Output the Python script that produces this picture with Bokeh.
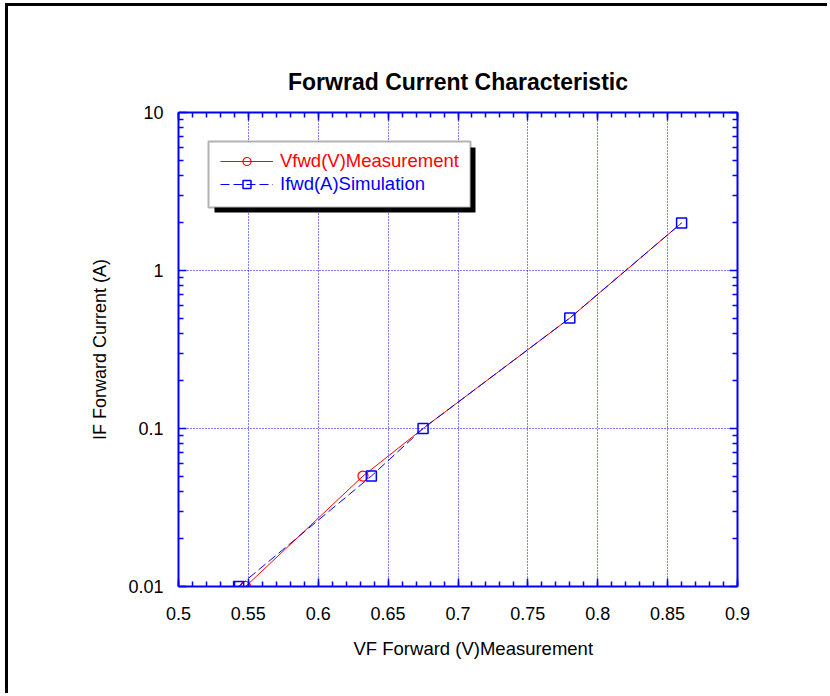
from bokeh.plotting import figure
from bokeh.models import (LinearAxis, LogAxis, FixedTicker, NumeralTickFormatter,
                          CustomJSTickFormatter, Legend, LegendItem, BoxAnnotation, Range1d, Title)
from bokeh.embed import file_html
from bokeh.resources import INLINE

# ---- data ----
meas_vf = [0.548, 0.632, 0.675, 0.78, 0.86]
meas_if = [0.01, 0.05, 0.1, 0.5, 2.0]
meas_mark_vf = [0.548, 0.632]
meas_mark_if = [0.01, 0.05]
sim_vf = [0.543, 0.638, 0.675, 0.78, 0.86]
sim_if = [0.01, 0.05, 0.1, 0.5, 2.0]

x_ticks = [0.5, 0.55, 0.6, 0.65, 0.7, 0.75, 0.8, 0.85, 0.9]
y_ticks = [0.01, 0.1, 1, 10]

title_text = "Forwrad Current Characteristic"
x_label = "VF Forward (V)Measurement"
y_label = "IF Forward Current (A)"
meas_label = "Vfwd(V)Measurement"
sim_label = "Ifwd(A)Simulation"

FONT = "Liberation Sans"
BLUE = "#0000ff"

x_minor = [round(0.5 + 0.01 * i, 2) for i in range(41)]
y_minor = [m * 10 ** e for e in (-2, -1, 0) for m in range(2, 10)]

p = figure(width=822, height=690, x_range=Range1d(0.5, 0.9), y_range=Range1d(0.01, 10),
           y_axis_type="log", output_backend="svg", toolbar_location=None, title=None,
           min_border_left=170, min_border_right=93, min_border_top=106, min_border_bottom=110)
p.styles = {"border-left": "3px solid black", "border-top": "3px solid black",
            "margin-left": "5px", "margin-top": "3px"}
p.outline_line_color = None
p.background_fill_color = "white"
p.border_fill_color = "white"

xt = FixedTicker(ticks=x_ticks, minor_ticks=x_minor)
yt = FixedTicker(ticks=y_ticks, minor_ticks=y_minor)


def style(ax, ticker, labels=True, fmt=None, standoff=13):
    ax.ticker = ticker
    ax.axis_line_color = BLUE
    ax.axis_line_width = 2
    ax.major_tick_in = 8
    ax.major_tick_out = 0
    ax.minor_tick_in = 5
    ax.minor_tick_out = 0
    ax.major_tick_line_color = BLUE
    ax.minor_tick_line_color = BLUE
    ax.major_tick_line_width = 1.5
    ax.minor_tick_line_width = 1.5
    ax.major_label_text_font = FONT
    ax.major_label_text_font_size = "18px"
    ax.major_label_text_color = "black"
    ax.major_label_standoff = standoff
    if labels:
        ax.formatter = fmt
    else:
        ax.formatter = CustomJSTickFormatter(code="return ''")
        ax.major_label_standoff = 0


style(p.xaxis[0], xt, True, NumeralTickFormatter(format="0.[00]"), 20)
style(p.yaxis[0], yt, True, NumeralTickFormatter(format="0.[00]"), 15)
p.yaxis[0].axis_label = y_label
p.yaxis[0].axis_label_text_font = FONT
p.yaxis[0].axis_label_text_font_size = "18px"
p.yaxis[0].axis_label_text_font_style = "normal"
p.yaxis[0].axis_label_text_color = "black"
p.yaxis[0].axis_label_standoff = 15

top_ax = LinearAxis()
style(top_ax, xt, False)
right_ax = LogAxis()
style(right_ax, yt, False)
p.add_layout(top_ax, "above")
p.add_layout(right_ax, "right")

p.xgrid.ticker = xt
p.ygrid.ticker = yt
for g in (p.xgrid[0], p.ygrid[0]):
    g.grid_line_color = BLUE
    g.grid_line_dash = "1 2"
    g.grid_line_width = 1
    g.minor_grid_line_color = None

# ---- data glyphs ----
r_meas = p.line(meas_vf, meas_if, line_color="red", line_width=1)
r_meas_m = p.scatter(meas_mark_vf, meas_mark_if, marker="circle", size=10,
                     line_color="red", fill_color=None, line_width=1.2)
r_sim = p.line(sim_vf, sim_if, line_color=BLUE, line_width=1, line_dash="9 4")
r_sim_m = p.scatter(sim_vf, sim_if, marker="square", size=10,
                    line_color=BLUE, fill_color=None, line_width=1.5)

# ---- legend box with shadow ----
p.add_layout(BoxAnnotation(left=36, right=297, top=439, bottom=374,
                           left_units="screen", right_units="screen",
                           top_units="screen", bottom_units="screen",
                           fill_color="black", fill_alpha=1, line_color=None))
p.add_layout(BoxAnnotation(left=30, right=292, top=445, bottom=379,
                           left_units="screen", right_units="screen",
                           top_units="screen", bottom_units="screen",
                           fill_color="white", fill_alpha=1, line_color="black", line_width=2))

for items, col, loc in (([LegendItem(label=meas_label, renderers=[r_meas, r_meas_m])], "red", (42, 414)),
                        ([LegendItem(label=sim_label, renderers=[r_sim, r_sim_m])], BLUE, (42, 391))):
    leg = Legend(items=items, location=loc, label_text_color=col, label_text_font=FONT,
                 label_text_font_size="18.5px", glyph_width=53, glyph_height=20, label_height=20,
                 label_standoff=7, padding=0, margin=0, spacing=0,
                 border_line_color=None, background_fill_alpha=0)
    p.add_layout(leg)

# ---- title and x label ----
p.add_layout(Title(text=title_text, align="center", text_font=FONT, text_font_size="23px",
                   text_font_style="bold", text_color="black", standoff=36), "above")
p.add_layout(Title(text=x_label, align="left", offset=175, text_font=FONT, text_font_size="18.5px",
                   text_font_style="normal", text_color="black", standoff=26), "below")

open("out.html", "w").write(file_html(p, INLINE))
